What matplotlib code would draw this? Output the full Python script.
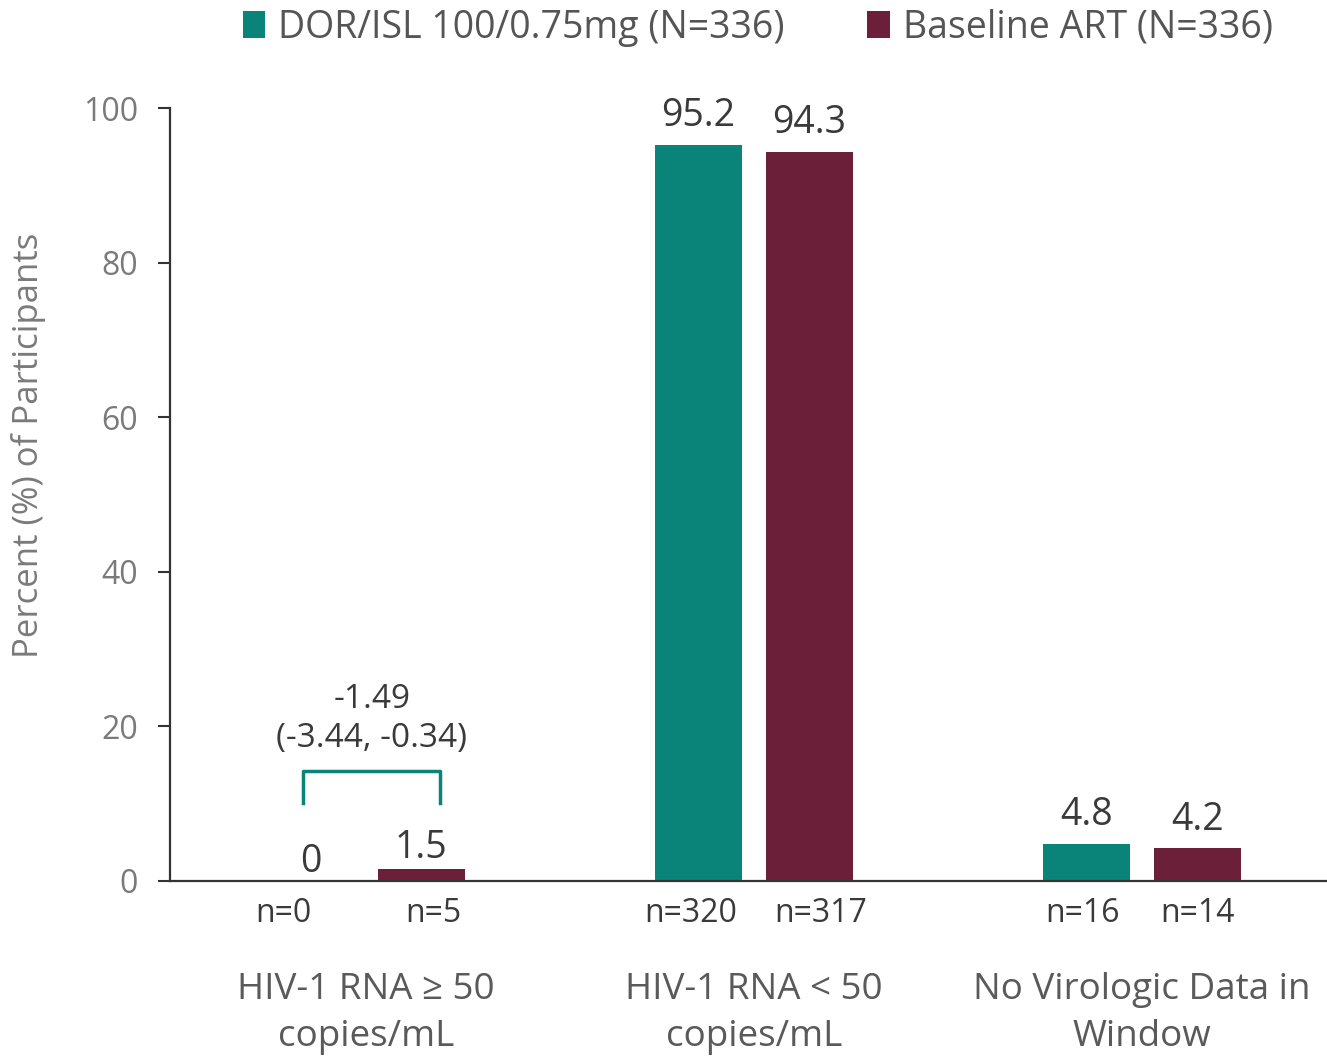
import matplotlib
matplotlib.use("Agg")
import matplotlib.pyplot as plt
import numpy as np

categories = ["HIV-1 RNA \u2265 50\ncopies/mL", "HIV-1 RNA < 50\ncopies/mL", "No Virologic Data in\nWindow"]
series_names = ["DOR/ISL 100/0.75mg (N=336)", "Baseline ART (N=336)"]
dor_values = [0, 95.2, 4.8]
art_values = [1.5, 94.3, 4.2]
dor_labels = ["0", "95.2", "4.8"]
art_labels = ["1.5", "94.3", "4.2"]
dor_n = ["n=0", "n=320", "n=16"]
art_n = ["n=5", "n=317", "n=14"]
diff_text = "-1.49\n(-3.44, -0.34)"
yticks = [0, 20, 40, 60, 80, 100]

TEAL = "#0a8478"
MAROON = "#6b1f38"
TXT = "#3a3a3a"
GREY = "#7a7a7a"

plt.rcParams['font.family'] = ['Open Sans', 'DejaVu Sans']

fig = plt.figure(figsize=(13.27, 10.60), dpi=100)
ax = fig.add_axes([0.128, 0.169, 0.872, 0.729])

x = np.arange(len(categories))
w = 0.224
off = 0.143
b1 = ax.bar(x - off, dor_values, w, color=TEAL, label=series_names[0])
b2 = ax.bar(x + off, art_values, w, color=MAROON, label=series_names[1])

# first group labels sit lower (crowded by the bracket)
dor_off = [6.5, 13.5, 13.5]
art_off = [8.0, 13.5, 13.5]
for xi, v, lab, o in zip(x - off, dor_values, dor_labels, dor_off):
    ax.annotate(lab, (xi, v), xytext=(0, o), textcoords="offset points",
                ha="center", va="baseline", fontsize=27, color=TXT)
for xi, v, lab, o in zip(x + off, art_values, art_labels, art_off):
    ax.annotate(lab, (xi, v), xytext=(0, o), textcoords="offset points",
                ha="center", va="baseline", fontsize=27, color=TXT)

tr = ax.get_xaxis_transform()
dor_nshift = [-0.07, -0.02, -0.01]
art_nshift = [0.03, 0.03, 0.0]
for xi, lab, s in zip(x - off, dor_n, dor_nshift):
    ax.text(xi + s, -0.042, lab, transform=tr, ha="center", va="center", fontsize=23, color=TXT)
for xi, lab, s in zip(x + off, art_n, art_nshift):
    ax.text(xi + s, -0.042, lab, transform=tr, ha="center", va="center", fontsize=23, color=TXT)
for xi, lab in zip(x, categories):
    ax.text(xi, -0.172, lab, transform=tr, ha="center", va="center", fontsize=26.5,
            color="#5a5a5a", linespacing=1.4)

# bracket
bx0, bx1 = x[0] - 0.162, x[0] + 0.191
ax.plot([bx0, bx0, bx1, bx1], [10.1, 14.2, 14.2, 10.1], color=TEAL, lw=2.5,
        solid_joinstyle="round", clip_on=False)
ax.text(x[0] + 0.015, 20.9, diff_text, ha="center", va="center", fontsize=24,
        color=TXT, linespacing=1.25)

ax.set_xlim(-0.505, 2.477)
ax.set_ylim(0, 100)
ax.set_yticks(yticks)
ax.set_yticklabels([str(t) for t in yticks], fontsize=23, color=GREY)
ax.set_xticks([])
ax.tick_params(axis='y', length=9, width=1.5, color="#333333", pad=14)
ax.set_ylabel("Percent (%) of Participants", fontsize=25, color=GREY)
ax.yaxis.set_label_coords(-0.107, 0.564)

for s in ["top", "right"]:
    ax.spines[s].set_visible(False)
for s in ["left", "bottom"]:
    ax.spines[s].set_color("#333333")
    ax.spines[s].set_linewidth(1.6)

fig.legend(handles=[b1, b2], labels=series_names, loc="center", ncol=2,
           bbox_to_anchor=(0.571, 0.974), frameon=False, fontsize=27,
           handlelength=0.6, handleheight=0.75, handletextpad=0.35, columnspacing=2.2,
           labelcolor="#555555")

fig.savefig("out.png", dpi=100)
